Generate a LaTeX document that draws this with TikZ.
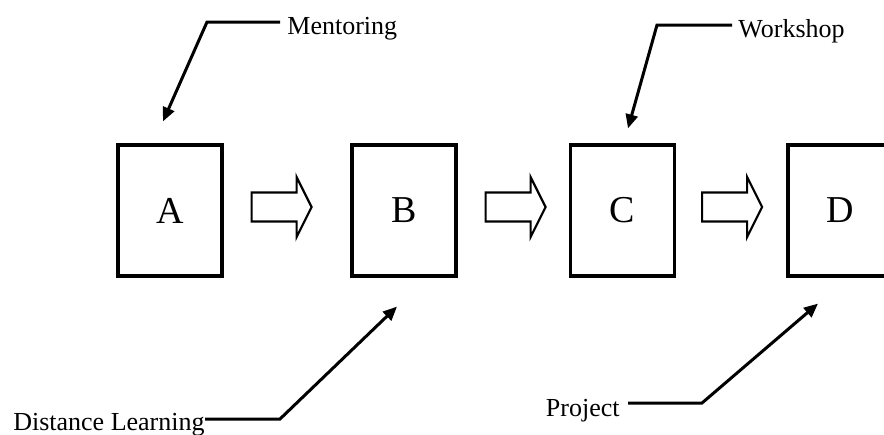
\documentclass[tikz,border=0pt]{standalone}
\usepackage{fontspec}
\setmainfont{Liberation Serif}
\usetikzlibrary{calc,arrows.meta}
\tikzset{
  stage/.style={draw, line width=1.6pt, minimum width=52pt, minimum height=65.5pt,
                inner sep=0pt, font=\fontsize{19}{22}\selectfont},
  label/.style={inner sep=0pt, font=\fontsize{13}{15}\selectfont},
  callout/.style={line width=1.5pt, line join=miter,
                  -{Triangle[length=7pt,width=6pt]}},
  pics/flowarrow/.style={code={
    \draw[line width=1.1pt, line join=miter, fill=white]
      (0,-14.5) -- (45,-14.5) -- (45,-30) -- (60,0) -- (45,30) -- (45,14.5) -- (0,14.5) -- cycle;
  }}
}
\begin{document}
\begin{tikzpicture}[x=0.5pt,y=-0.5pt]
  \useasboundingbox (0,0) rectangle (884,434);

  % the four stages
  \node[stage] (A) at (170,210.5) {A};
  \node[stage] (B) at (404,210.5) {B};
  \node[stage] (C) at (622.5,210.5) {C};
  \node[stage] (D) at (840,210.5) {D};

  % block arrows between consecutive stages
  \pic at ($(A.east)+(28,-3.5)$) {flowarrow};
  \pic at ($(B.east)+(28,-3.5)$) {flowarrow};
  \pic at ($(C.east)+(26,-3.5)$) {flowarrow};

  % labels
  \node[label, anchor=west] (ment) at (287,29) {Mentoring};
  \node[label, anchor=west] (work) at (738,31) {Workshop};
  \node[label, anchor=east] (dist) at (205,425) {Distance Learning};
  \node[label, anchor=east] (proj) at (620,411) {Project};

  % bends of the callout lines
  \coordinate (mbend) at (207,22);
  \coordinate (wbend) at (657,25);
  \coordinate (dbend) at (280,419);
  \coordinate (pbend) at (702,403);

  % arrow tips near the stages
  \coordinate (mtip) at ($(A.north)+(-7,-22)$);
  \coordinate (wtip) at ($(C.north)+(5.5,-15)$);
  \coordinate (dtip) at ($(B.south)+(-7,29)$);
  \coordinate (ptip) at ($(D.south)+(-22,26)$);

  % callouts
  \draw[callout] ($(ment.west)+(-7,-7)$) -- (mbend) -- (mtip);
  \draw[callout] ($(work.west)+(-6,-6)$) -- (wbend) -- (wtip);
  \draw[callout] ($(dist.east)+(0,-6)$) -- (dbend) -- (dtip);
  \draw[callout] ($(proj.east)+(8,-8)$) -- (pbend) -- (ptip);
\end{tikzpicture}
\end{document}
